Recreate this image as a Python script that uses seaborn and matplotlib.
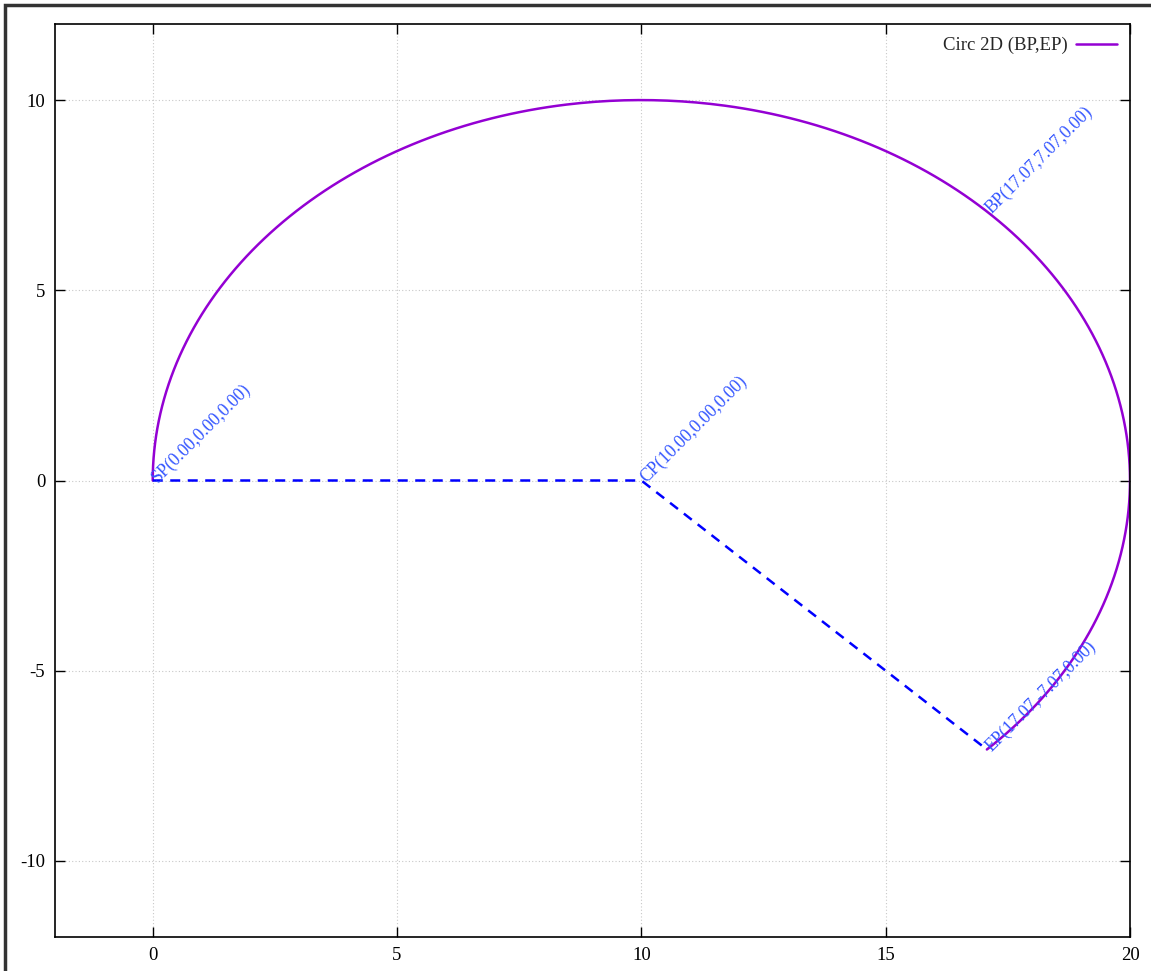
import numpy as np
import pandas as pd
import matplotlib
matplotlib.use("Agg")
import matplotlib.pyplot as plt
import seaborn as sns

# --- chart data ---
point_names = ["SP", "CP", "EP", "BP"]
point_x = [0.00, 10.00, 17.07, 17.07]
point_y = [0.00, 0.00, -7.07, 7.07]
point_z = [0.00, 0.00, 0.00, 0.00]

arc_center = (10.0, 0.0)
arc_radius = 10.0
arc_start_deg = 180.0   # at SP
arc_end_deg = -45.0     # at EP (clockwise)

legend_label = "Circ 2D (BP,EP)"
x_ticks = [0, 5, 10, 15, 20]
y_ticks = [-10, -5, 0, 5, 10]

sns.set_theme(style="ticks")
plt.rcParams["font.family"] = ["Liberation Serif", "DejaVu Serif"]
plt.rcParams["axes.unicode_minus"] = False

fig = plt.figure(figsize=(11.51, 9.71), dpi=100)
ax = fig.add_axes([55 / 1151, 1 - 937 / 971, (1130 - 55) / 1151, (937 - 24) / 971])

ang = np.radians(np.linspace(arc_start_deg, arc_end_deg, 400))
arc_df = pd.DataFrame({
    "x": arc_center[0] + arc_radius * np.cos(ang),
    "y": arc_center[1] + arc_radius * np.sin(ang),
})
sns.lineplot(data=arc_df, x="x", y="y", sort=False, estimator=None, ax=ax,
             color="#9400d3", lw=1.8, label=legend_label)

# dashed radii SP -> CP -> EP
rad_df = pd.DataFrame({"x": point_x[:3], "y": point_y[:3]})
sns.lineplot(data=rad_df, x="x", y="y", sort=False, estimator=None, ax=ax,
             color="#0000ff", lw=1.8, linestyle=(0, (4, 3)), label="_nolegend_")

for n, px, py, pz in zip(point_names, point_x, point_y, point_z):
    ax.annotate(f"{n}({px:.2f},{py:.2f},{pz:.2f})", xy=(px, py),
                xytext=(5, -3), textcoords="offset pixels", rotation=45,
                rotation_mode="anchor", ha="left", va="baseline",
                color="#3355ff", fontsize=12.8)

ax.set_xlim(-2, 20)
ax.set_ylim(-12, 12)
ax.set_xticks(x_ticks)
ax.set_yticks(y_ticks)
ax.set_xlabel("")
ax.set_ylabel("")
ax.grid(True, color="#c8c8c8", linestyle=(0, (1, 2)), lw=0.8)
ax.tick_params(direction="in", length=7.5, width=1.0, top=True, right=True,
               labelsize=13.5, colors="black", pad=7)
for s in ax.spines.values():
    s.set_color("black")
    s.set_linewidth(1.2)

leg = ax.legend(loc="upper right", frameon=False, markerfirst=False,
                fontsize=13.5, handlelength=2.2, handletextpad=0.4,
                borderaxespad=0.3)

# outer frame
fig.add_artist(plt.Rectangle((5 / 1151, -0.01), 1.1, 1 - 5 / 971 + 0.01,
                             transform=fig.transFigure, fill=False,
                             edgecolor="#333333", lw=2.5))

fig.savefig("out.png", dpi=100)
